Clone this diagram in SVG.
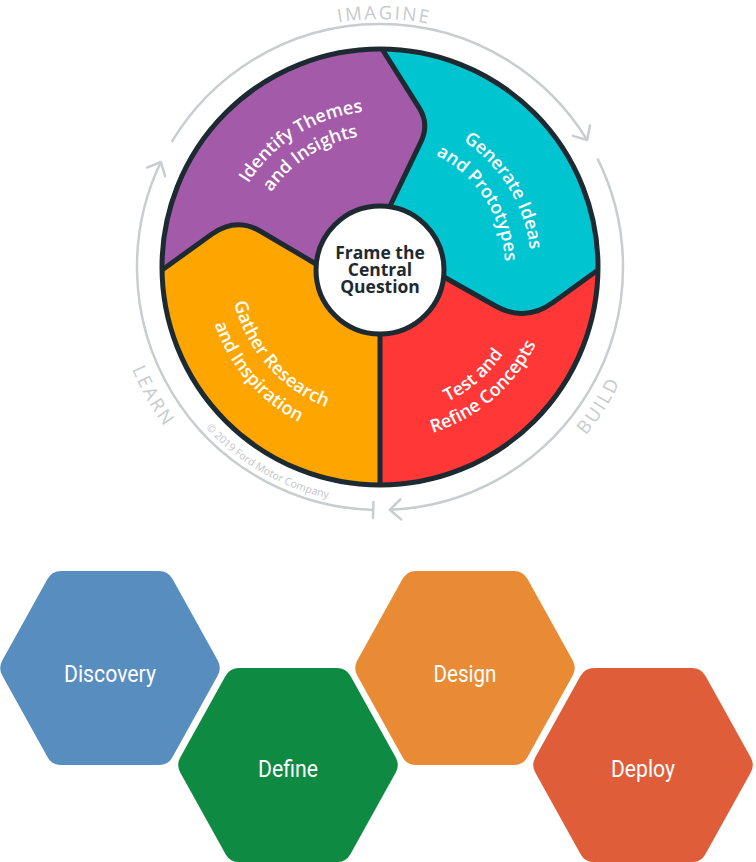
<svg xmlns="http://www.w3.org/2000/svg" width="756" height="862" viewBox="0 0 756 862">
<defs>
<style>
.seg-label{font-family:"Open Sans","Liberation Sans",sans-serif;font-size:18px;font-weight:600;fill:#ffffff;text-anchor:middle}
.ring-label{font-family:"Open Sans","Liberation Sans",sans-serif;font-size:18.5px;fill:#c7cbcd;letter-spacing:2.3px;text-anchor:middle}
.copy{font-family:"Open Sans","Liberation Sans",sans-serif;font-size:10.5px;fill:#c2c6c8;text-anchor:middle}
.center-label{font-family:"Open Sans","Liberation Sans",sans-serif;font-weight:700;font-size:17.5px;fill:#1e2a31;text-anchor:middle}
.ring{fill:none;stroke:#c9cdcf;stroke-width:2.5}
.edge{fill:none;stroke:#1e2a31;stroke-width:5;stroke-linejoin:round}
.hex-label{font-family:Roboto,"Liberation Sans",sans-serif;font-size:24px;fill:#ffffff;text-anchor:middle}
.mk{fill:none;stroke:#c9cdcf;stroke-width:2.5;stroke-linecap:round;stroke-linejoin:round}
</style>
<clipPath id="wheel"><circle cx="380" cy="267" r="218"/></clipPath>
<marker id="chev" markerUnits="userSpaceOnUse" markerWidth="30" markerHeight="30" viewBox="-15 -15 30 30" refX="0" refY="0" orient="auto"><path class="mk" d="M-11,-10 L0,0 L-11,10"/></marker>
<marker id="tick" markerUnits="userSpaceOnUse" markerWidth="30" markerHeight="30" viewBox="-15 -15 30 30" refX="0" refY="0" orient="auto"><path class="mk" d="M0,-8 L0,8"/></marker>
<path id="p-imagine" d="M136.55,219.68 A248,248 0 0 1 624.94,228.20"/>
<path id="p-build" d="M279.06,513.11 A266,266 0 0 0 559.02,70.26"/>
<path id="p-learn" d="M208.98,60.62 A268,268 0 0 0 470.12,519.39"/>
<path id="p-copy" d="M157.29,185.94 A237,237 0 0 0 561.55,419.34"/>
<path id="p-id1" d="M235.36,325.44 A156,156 0 0 1 495.93,162.62"/>
<path id="p-id2" d="M258.05,317.51 A132,132 0 0 1 477.32,177.82"/>
<path id="p-gen1" d="M324.41,126.60 A151,151 0 0 1 480.25,379.92"/>
<path id="p-gen2" d="M331.16,151.94 A125,125 0 0 1 465.25,358.42"/>
<path id="p-gat1" d="M262.94,173.21 A150,150 0 0 0 457.93,395.17"/>
<path id="p-gat2" d="M244.58,156.16 A175,175 0 0 0 469.35,417.47"/>
<path id="p-tst1" d="M284.36,383.85 A151,151 0 0 0 509.84,189.91"/>
<path id="p-tst2" d="M269.79,401.65 A174,174 0 0 0 529.61,178.16"/>
<path id="hex" d="M107.62,-7.87 Q112,0 107.62,7.87 L62.38,89.13 Q58,97 49,97 L-49,97 Q-58,97 -62.38,89.13 L-107.62,7.87 Q-112,0 -107.62,-7.87 L-62.38,-89.13 Q-58,-97 -49,-97 L49,-97 Q58,-97 62.38,-89.13 Z"/>
</defs>

<g id="connectors">
  <path class="ring" d="M171.71,141.85 A243,243 0 0 1 587.19,140.03" marker-end="url(#chev)"/>
  <path class="ring" d="M597.47,158.57 A243,243 0 0 1 389.75,509.80" marker-end="url(#chev)"/>
  <path class="ring" d="M373.21,509.91 A243,243 0 0 1 160.86,162.00" marker-start="url(#tick)" marker-end="url(#chev)"/>
</g>

<g id="ring-labels">
  <text class="ring-label"><textPath href="#p-imagine" startOffset="50%">IMAGINE</textPath></text>
  <text class="ring-label"><textPath href="#p-build" startOffset="50%">BUILD</textPath></text>
  <text class="ring-label"><textPath href="#p-learn" startOffset="50%">LEARN</textPath></text>
  <text class="copy"><textPath href="#p-copy" startOffset="50%">© 2019 Ford Motor Company</textPath></text>
</g>

<g id="wheel-segments" clip-path="url(#wheel)">
  <g id="identify">
    <path fill="#a35aa9" d="M382,49 L419.2,107.8 Q429.5,124 420.8,142.2 L390,206 L380,270 L316,264 L260,231 Q236,217 212,234 L162,270 L120,270 L120,20 L382,20 Z"/>
    <text class="seg-label"><textPath href="#p-id1" startOffset="50%">Identify Themes</textPath></text>
    <text class="seg-label"><textPath href="#p-id2" startOffset="50%">and Insights</textPath></text>
  </g>
  <g id="generate">
    <path fill="#00c5d1" d="M382,49 L419.2,107.8 Q429.5,124 420.8,142.2 L390,206 L380,270 L444,277 L495,305.8 Q525.2,322.8 553,302.6 L598,270 L640,270 L640,20 L382,20 Z"/>
    <text class="seg-label"><textPath href="#p-gen1" startOffset="50%">Generate Ideas</textPath></text>
    <text class="seg-label"><textPath href="#p-gen2" startOffset="50%">and Prototypes</textPath></text>
  </g>
  <g id="gather">
    <path fill="#ffa500" d="M162,270 L212,234 Q236,217 260,231 L316,264 L380,270 L380,500 L120,500 L120,270 Z"/>
    <text class="seg-label"><textPath href="#p-gat1" startOffset="50%">Gather Research</textPath></text>
    <text class="seg-label"><textPath href="#p-gat2" startOffset="50%">and Inspiration</textPath></text>
  </g>
  <g id="test">
    <path fill="#ff3737" d="M380,270 L444,277 L495,305.8 Q525.2,322.8 553,302.6 L598,270 L640,270 L640,500 L380,500 Z"/>
    <text class="seg-label"><textPath href="#p-tst1" startOffset="50%">Test and</textPath></text>
    <text class="seg-label"><textPath href="#p-tst2" startOffset="50%">Refine Concepts</textPath></text>
  </g>
  <g id="wheel-edges">
    <path class="edge" d="M382,49 L419.2,107.8 Q429.5,124 420.8,142.2 L390,206"/>
    <path class="edge" d="M162,270 L212,234 Q236,217 260,231 L316,264"/>
    <path class="edge" d="M380,334 L380,487"/>
    <path class="edge" d="M598,270 L553,302.6 Q525.2,322.8 495,305.8 L444,277"/>
  </g>
</g>
<circle cx="380" cy="267" r="218" fill="none" stroke="#1e2a31" stroke-width="5"/>

<g id="frame">
  <circle cx="380" cy="270" r="64" fill="#ffffff" stroke="#1e2a31" stroke-width="5"/>
  <text class="center-label" x="380" y="259">Frame the</text>
  <text class="center-label" x="380" y="276">Central</text>
  <text class="center-label" x="380" y="293">Question</text>
</g>

<g id="discovery">
  <use href="#hex" transform="translate(110,668)" fill="#578dbf"/>
  <text class="hex-label" x="110" y="682" textLength="92" lengthAdjust="spacingAndGlyphs">Discovery</text>
</g>
<g id="define">
  <use href="#hex" transform="translate(288,765)" fill="#0e8a42"/>
  <text class="hex-label" x="288" y="777" textLength="60" lengthAdjust="spacingAndGlyphs">Define</text>
</g>
<g id="design">
  <use href="#hex" transform="translate(465,668)" fill="#e98b35"/>
  <text class="hex-label" x="465" y="682" textLength="63" lengthAdjust="spacingAndGlyphs">Design</text>
</g>
<g id="deploy">
  <use href="#hex" transform="translate(643,765)" fill="#e05d3a"/>
  <text class="hex-label" x="643" y="777" textLength="64" lengthAdjust="spacingAndGlyphs">Deploy</text>
</g>
</svg>
